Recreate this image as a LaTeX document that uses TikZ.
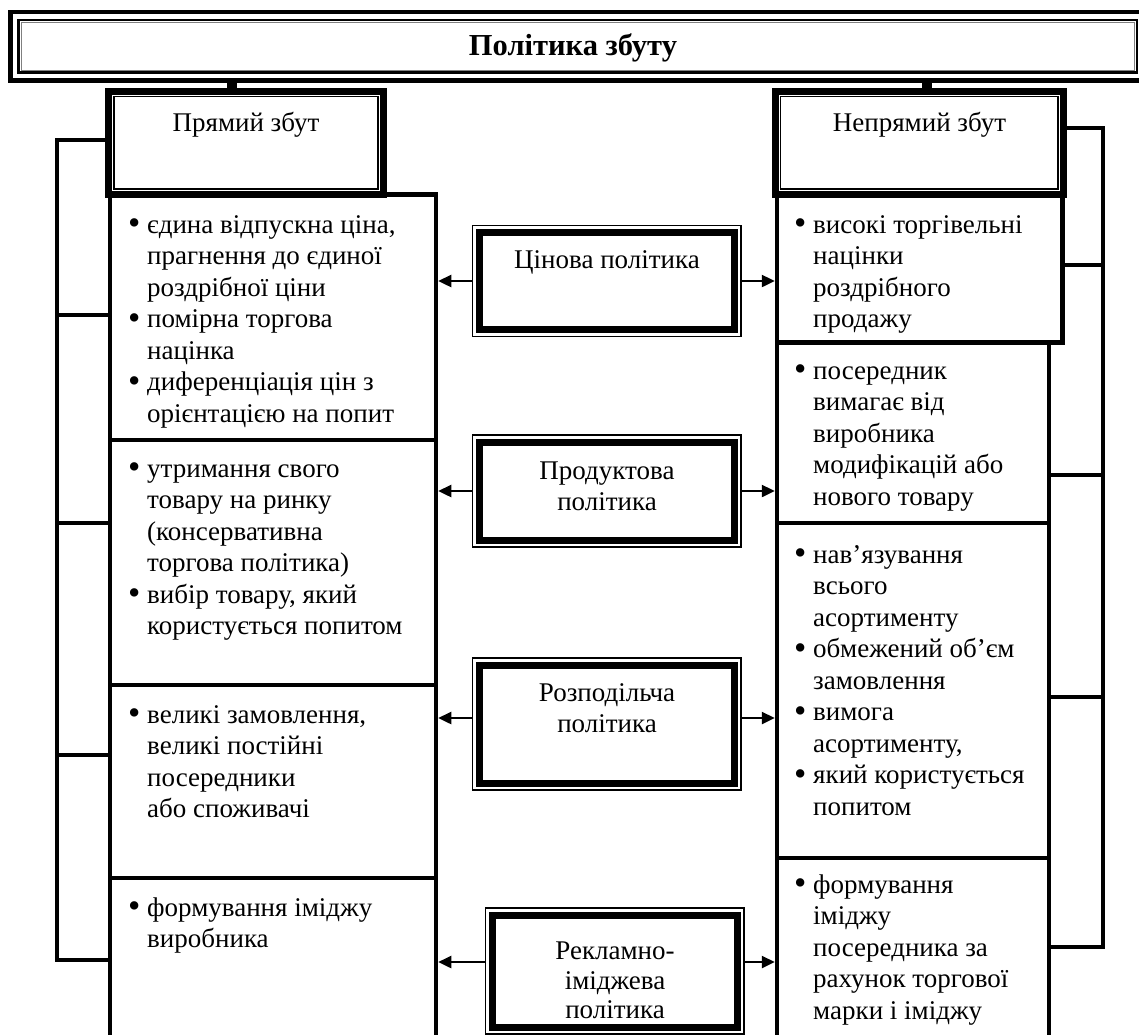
\documentclass[tikz,border=0pt]{standalone}
\usepackage{fontspec}
\usepackage{graphicx}
\setmainfont{Liberation Serif}
\usetikzlibrary{arrows.meta,fit}
\newcommand\bul{\llap{\makebox[19pt][l]{\raisebox{-1.5pt}{\scalebox{1.3}{\textbullet}}}}}
\begin{document}
\begin{tikzpicture}[x=1pt,y=-1pt,
  every node/.style={inner sep=0pt},
  colbox/.style={draw, line width=4.5pt, inner sep=0pt},
  hdrbox/.style={draw, line width=7pt, inner sep=0pt, outer sep=0pt},
  midbox/.style={draw, line width=1.4pt, inner sep=0pt, outer sep=0pt},
  txt/.style={font=\fontsize{27}{31.5}\selectfont, align=left, anchor=north west, inner sep=0pt},
  ctxt/.style={font=\fontsize{27}{31.5}\selectfont, align=center, anchor=north, inner sep=0pt},
  arr/.style={line width=2.4pt, -{Triangle[length=13pt,width=12pt]}},
  brk/.style={line width=4.5pt, line join=miter},
]
\useasboundingbox (0,0) rectangle (1139,1034);
\clip (0,0) rectangle (1139,1034);

% title
\node[draw, line width=4.5pt, outer sep=0pt, fit={(10.5,12) (1145,80.5)}] (title) {};
\draw[line width=2.5pt] ([shift={(8,8)}]title.north west) rectangle ([shift={(-8,-8)}]title.south east);
\draw[line width=1pt, gray] ([shift={(10.5,10.5)}]title.north west) rectangle ([shift={(-10.5,-10.5)}]title.south east);
\node[font=\fontsize{30.5}{34}\selectfont\bfseries, anchor=base] (titlet) at (573,55) {Політика збуту};

% column boxes
\node[colbox, fit={(110,194.5) (436,440)}] (l1) {};
\node[colbox, fit={(110,440) (436,685)}] (l2) {};
\node[colbox, fit={(110,685) (436,878)}] (l3) {};
\node[colbox, fit={(110,878) (436,1045)}] (l4) {};
\node[colbox, fit={(777,194.5) (1062.5,342.5)}] (r1) {};
\node[colbox, fit={(777,342.5) (1049,523)}] (r2) {};
\node[colbox, fit={(777,523) (1049,858)}] (r3) {};
\node[colbox, fit={(777,858) (1049,1045)}] (r4) {};

% headers
\node[hdrbox, fill=white, fit={(108.5,91) (383.5,194.5)}] (hl) {};
\draw[line width=1.3pt] ([shift={(5.5,5.5)}]hl.north west) rectangle ([shift={(-5.5,-5.5)}]hl.south east);
\node[ctxt, anchor=base] (hlt) at (246,131) {Прямий збут};
\node[hdrbox, fill=white, fit={(775,91) (1063.5,194.5)}] (hr) {};
\draw[line width=1.3pt] ([shift={(5.5,5.5)}]hr.north west) rectangle ([shift={(-5.5,-5.5)}]hr.south east);
\node[ctxt, anchor=base] (hrt) at (919.5,131) {Непрямий збут};

% title connectors
\coordinate (cl) at (232,80.5);
\coordinate (cr) at (927,80.5);
\draw[line width=10pt] (cl) -- (cl |- hl.north);
\draw[line width=10pt] (cr) -- (cr |- hr.north);

% middle boxes
\node[midbox, fit={(472.5,225.5) (741,336.5)}] (cin) {};
\draw[line width=7pt] ([shift={(7,7)}]cin.north west) rectangle ([shift={(-7,-7)}]cin.south east);
\node[ctxt, anchor=base] (cint) at (607,268) {Цінова політика};

\node[midbox, fit={(472.5,435) (741,547)}] (prod) {};
\draw[line width=7pt] ([shift={(7,7)}]prod.north west) rectangle ([shift={(-7,-7)}]prod.south east);
\node[ctxt] (prodt) at (607,457) {\strut Продуктова\\політика};

\node[midbox, fit={(472.5,658) (741,790)}] (rozp) {};
\draw[line width=7pt] ([shift={(7,7)}]rozp.north west) rectangle ([shift={(-7,-7)}]rozp.south east);
\node[ctxt] (rozpt) at (607,679) {\strut Розподільча\\політика};

\node[midbox, fit={(485.5,908) (744,1034)}] (rekl) {};
\draw[line width=7pt] ([shift={(7,7)}]rekl.north west) rectangle ([shift={(-7,-7)}]rekl.south east);
\node[ctxt, font=\fontsize{27}{29.5}\selectfont] (reklt) at (615,939) {\strut Рекламно-\\іміджева\\політика};

% arrows
\draw[arr] (cin.west) -- (cin.west -| l1.east);
\draw[arr] (cin.east) -- (cin.east -| r1.west);
\draw[arr] (prod.west) -- (prod.west -| l2.east);
\draw[arr] (prod.east) -- (prod.east -| r2.west);
\draw[arr] ([yshift=6pt]rozp.west) -- ([yshift=6pt]rozp.west -| l3.east);
\draw[arr] ([yshift=6pt]rozp.east) -- ([yshift=6pt]rozp.east -| r3.west);
\draw[arr] ([yshift=9pt]rekl.west) -- ([yshift=9pt]rekl.west -| l4.east);
\draw[arr] ([yshift=9pt]rekl.east) -- ([yshift=9pt]rekl.east -| r4.west);

% left bracket
\coordinate (lbt) at (57,140);
\coordinate (lbb) at (57,960);
\draw[brk] (lbt -| hl.west) -- (lbt) -- (lbb) -- (lbb -| l4.west);
\coordinate (lk1) at (57,315);
\coordinate (lk2) at (57,523);
\coordinate (lk3) at (57,755);
\draw[brk] (lk1) -- (lk1 -| l1.west);
\draw[brk] (lk2) -- (lk2 -| l2.west);
\draw[brk] (lk3) -- (lk3 -| l3.west);

% right bracket
\coordinate (rbt) at (1103,128);
\coordinate (rbb) at (1103,947);
\draw[brk] (rbt -| hr.east) -- (rbt) -- (rbb) -- (rbb -| r4.east);
\coordinate (rk1) at (1103,265);
\coordinate (rk2) at (1103,475);
\coordinate (rk3) at (1103,697);
\draw[brk] (rk1) -- (rk1 -| r1.east);
\draw[brk] (rk2) -- (rk2 -| r2.east);
\draw[brk] (rk3) -- (rk3 -| r3.east);

% texts
\node[txt] (l1t) at (147,211) {\strut\bul єдина відпускна ціна,\\прагнення до єдиної\\роздрібної ціни\\\bul помірна торгова\\націнка\\\bul диференціація цін з\\орієнтацією на попит};
\node[txt] (l2t) at (147,455) {\strut\bul утримання свого\\товару на ринку\\(консервативна\\торгова політика)\\\bul вибір товару, який\\користується попитом};
\node[txt] (l3t) at (147,701) {\strut\bul великі замовлення,\\великі постійні\\посередники\\або споживачі};
\node[txt] (l4t) at (147,894) {\strut\bul формування іміджу\\виробника};

\node[txt] (r1t) at (813,211) {\strut\bul високі торгівельні\\націнки\\роздрібного\\продажу};
\node[txt] (r2t) at (813,357) {\strut\bul посередник\\вимагає від\\виробника\\модифікацій або\\нового товару};
\node[txt] (r3t) at (813,541) {\strut\bul нав’язування\\всього\\асортименту\\\bul обмежений об’єм\\замовлення\\\bul вимога\\асортименту,\\\bul який користується\\попитом};
\node[txt] (r4t) at (813,871) {\strut\bul формування\\іміджу\\посередника за\\рахунок торгової\\марки і іміджу};
\end{tikzpicture}
\end{document}
